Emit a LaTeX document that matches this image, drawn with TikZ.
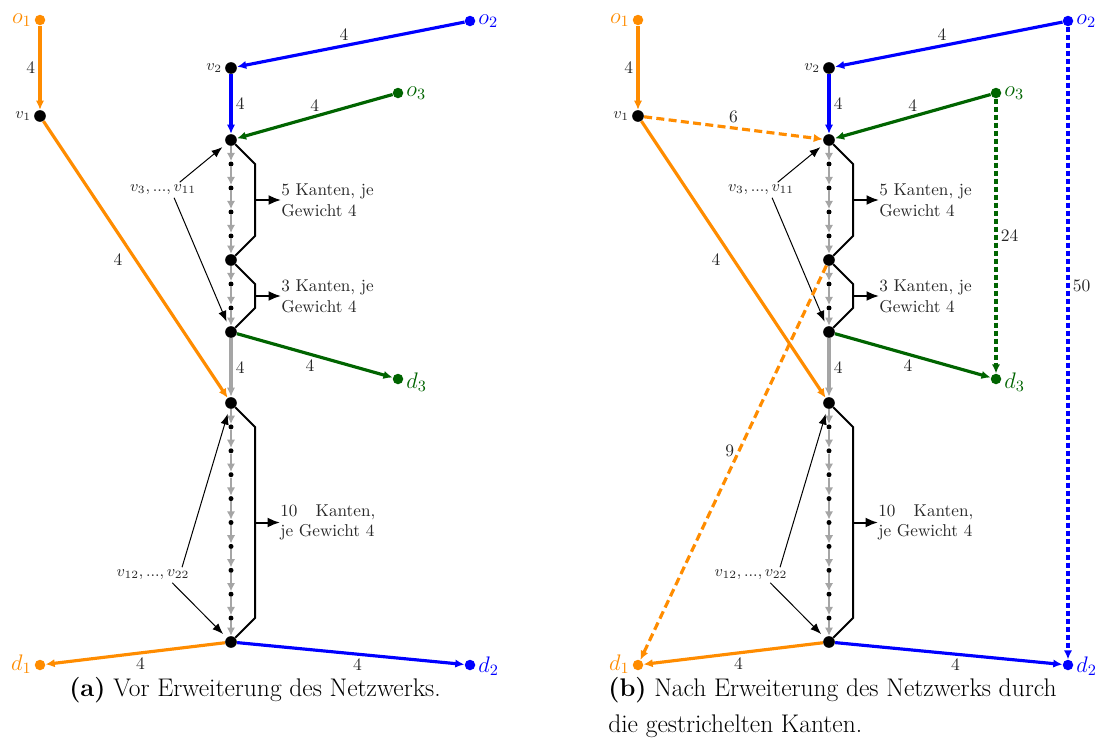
\RequirePackage{fix-cm}
\documentclass[tikz,border=0pt]{standalone}
\usetikzlibrary{arrows.meta,calc}
\definecolor{cor}{RGB}{255,140,0}
\definecolor{cbl}{RGB}{0,0,255}
\definecolor{cgr}{RGB}{0,100,0}
\definecolor{cgy}{RGB}{165,165,165}
\definecolor{ctx}{RGB}{40,40,40}
\begin{document}
\begin{tikzpicture}[x=0.6pt,y=-0.6pt,
 bigdot/.style={circle,fill=black,inner sep=0pt,minimum size=7pt},
 smalldot/.style={circle,fill=black,inner sep=0pt,minimum size=3pt},
 term/.style={circle,fill=#1,inner sep=0pt,minimum size=6.3pt},
 tlab/.style={text=#1,font=\fontsize{13.5}{15}\selectfont,inner sep=1.5pt},
 vlab/.style={text=ctx,font=\fontsize{9.5}{11}\selectfont,inner sep=1.5pt},
 cedge/.style={draw=#1,line width=1.9pt,-{Latex[length=5.5pt,width=5pt]}},
 dedgeA/.style={cedge=#1,dash pattern=on 4.8pt off 2.6pt},
 dedgeB/.style={cedge=#1,dash pattern=on 3pt off 1.8pt},
 elab/.style={font=\fontsize{10.5}{12}\selectfont,text=ctx,inner sep=2pt},
 chain/.style={draw=cgy,line width=1pt,-{Latex[length=5pt,width=5pt]}},
 thickchain/.style={draw=cgy,line width=1.9pt,-{Latex[length=5.5pt,width=5pt]}},
 brack/.style={draw=black,line width=1.2pt},
 brarrow/.style={draw=black,line width=1.2pt,-{Latex[length=7.5pt,width=6pt]}},
 annot/.style={draw=black,line width=0.6pt,-{Latex[length=6.5pt,width=5pt]},shorten >=3pt},
 ann/.style={font=\fontsize{10.3}{12.4}\selectfont,text=ctx,align=left,anchor=west,inner sep=0pt},
 captext/.style={font=\fontsize{15.3}{18}\selectfont,inner sep=0pt},
]
\useasboundingbox (0,0) rectangle (1101,753);
\foreach \p/\dx in {a/0,b/598}{
\begin{scope}[shift={(\dx,0)}]
 % terminals
 \node[term=cor] (\p o1) at (40,20) {};
 \node[term=cbl] (\p o2) at (470,21) {};
 \node[term=cgr] (\p o3) at (398,93) {};
 \node[term=cgr] (\p d3) at (398,379) {};
 \node[term=cor] (\p d1) at (40,665) {};
 \node[term=cbl] (\p d2) at (470,665) {};
 \node[tlab=cor,anchor=east] (\p lo1) at (\p o1.west) {$o_1$};
 \node[tlab=cbl,anchor=west] (\p lo2) at (\p o2.east) {$o_2$};
 \node[tlab=cgr,anchor=west] (\p lo3) at (\p o3.east) {$o_3$};
 \node[tlab=cgr,anchor=west] (\p ld3) at ($(\p d3.east)+(0,3)$) {$d_3$};
 \node[tlab=cor,anchor=east] (\p ld1) at ($(\p d1.west)+(0,-1)$) {$d_1$};
 \node[tlab=cbl,anchor=west] (\p ld2) at ($(\p d2.east)+(0,1)$) {$d_2$};
 % inner nodes
 \node[bigdot] (\p v1) at (40,116) {};
 \node[bigdot] (\p v2) at (231,68) {};
 \node[vlab,anchor=east] (\p lv1) at (\p v1.west) {$v_1$};
 \node[vlab,anchor=east] (\p lv2) at (\p v2.west) {$v_2$};
 \node[bigdot] (\p v3) at (231,140) {};
 \foreach \i in {1,...,4} \node[smalldot] (\p s\i) at (231,{140+24*\i}) {};
 \node[bigdot] (\p v7) at (231,260) {};
 \foreach \i in {5,6} \node[smalldot] (\p s\i) at (231,{260+24*(\i-4)}) {};
 \node[bigdot] (\p v11) at (231,332) {};
 \node[bigdot] (\p v12) at (231,403) {};
 \foreach \i in {1,...,9} \node[smalldot] (\p t\i) at (231,{403+23.9*\i}) {};
 \node[bigdot] (\p v22) at (231,642) {};
 % chain edges
 \foreach \a/\b in {v3/s1,s1/s2,s2/s3,s3/s4,s4/v7,v7/s5,s5/s6,s6/v11,
   v12/t1,t1/t2,t2/t3,t3/t4,t4/t5,t5/t6,t6/t7,t7/t8,t8/t9,t9/v22}
   \draw[chain] (\p\a) -- (\p\b);
 \draw[thickchain] (\p v11) -- node[elab,right]{4} (\p v12);
 % coloured edges
 \draw[cedge=cor] (\p o1) -- node[elab,left]{4} (\p v1);
 \draw[cedge=cor] (\p v1) -- node[elab,left=5pt]{4} (\p v12);
 \draw[cedge=cbl] (\p o2) -- node[elab,above,pos=0.53]{4} (\p v2);
 \draw[cedge=cbl] (\p v2) -- node[elab,right]{4} (\p v3);
 \draw[cedge=cgr] (\p o3) -- node[elab,above]{4} (\p v3);
 \draw[cedge=cgr] (\p v11) -- node[elab,below,pos=0.47]{4} (\p d3);
 \draw[cedge=cor] (\p v22) -- node[elab,below,pos=0.47]{4} (\p d1);
 \draw[cedge=cbl] (\p v22) -- node[elab,below,pos=0.53]{4} (\p d2);
 % brackets
 \coordinate (\p b1) at (255,164); \coordinate (\p b2) at (255,236);
 \coordinate (\p b3) at (255,284); \coordinate (\p b4) at (255,308);
 \coordinate (\p b5) at (255,427); \coordinate (\p b6) at (255,618);
 \draw[brack] (\p v3) -- (\p b1) -- (\p b2) -- (\p v7) -- (\p b3) -- (\p b4) -- (\p v11);
 \draw[brack] (\p v12) -- (\p b5) -- (\p b6) -- (\p v22);
 \node[ann] (\p k1) at (281,200) {5 Kanten, je\\Gewicht 4};
 \node[ann] (\p k2) at (281,296) {3 Kanten, je\\Gewicht 4};
 \node[ann] (\p k3) at (280,522.5) {\makebox[57pt][s]{10 Kanten,}\\je Gewicht 4};
 \draw[brarrow] ($(\p b1)!0.5!(\p b2)$) -- (\p k1.west);
 \draw[brarrow] ($(\p b3)!0.5!(\p b4)$) -- (\p k2.west);
 \draw[brarrow] ($(\p b5)!0.5!(\p b6)$) -- (\p k3.west);
 % annotations
 \node[vlab] (\p la) at (163,190) {$v_3, ..., v_{11}$};
 \node[vlab] (\p lb) at (153,575) {$v_{12}, ..., v_{22}$};
 \draw[annot] (\p la.25) -- (\p v3);
 \draw[annot] (\p la.-35) -- (\p v11);
 \draw[annot] (\p lb.15) -- (\p v12);
 \draw[annot] (\p lb.-22) -- (\p v22);
\end{scope}
}
% dashed edges of panel (b)
\draw[dedgeA=cor] (bv1) -- node[elab,above]{6} (bv3);
\draw[dedgeA=cor] (bv7) -- node[elab,left,pos=0.47]{9} (bd1);
\draw[dedgeB=cgr] (bo3) -- node[elab,right]{24} (bd3);
\draw[dedgeB=cbl] (bo2) -- node[elab,right,pos=0.41]{50} (bd2);
% captions
\node[captext] (capa) at (255,690) {\textbf{(a)} Vor Erweiterung des Netzwerks.};
\node[captext,anchor=west] (capb1) at (608,690) {\textbf{(b)} Nach Erweiterung des Netzwerks durch};
\node[captext,anchor=west] (capb2) at (608,726) {die gestrichelten Kanten.};
\end{tikzpicture}
\end{document}
